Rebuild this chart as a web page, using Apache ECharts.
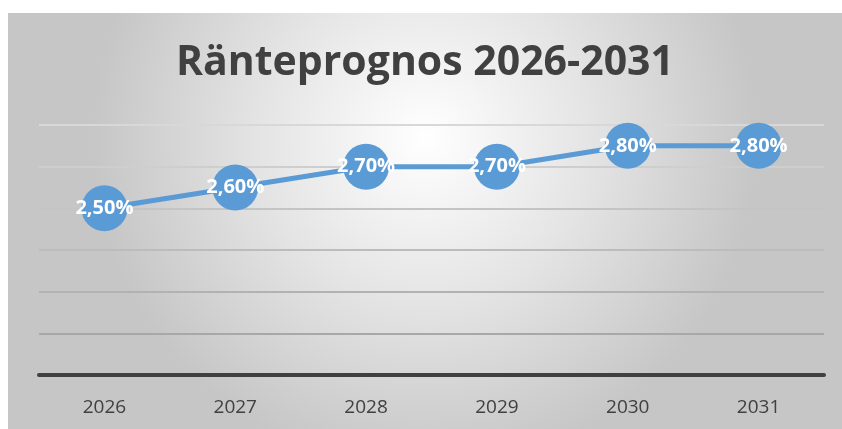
<!DOCTYPE html>
<html>
<head>
<meta charset="utf-8">
<script src="https://cdn.jsdelivr.net/npm/echarts@6/dist/echarts.min.js"></script>
<style>
  html, body { margin: 0; padding: 0; background: #fff; }
  #chart { position: absolute; left: 8px; top: 13px; width: 834px; height: 416px; }
</style>
</head>
<body>
<div id="chart"></div>
<script>
var years = ['2026', '2027', '2028', '2029', '2030', '2031'];
var rates = [2.5, 2.6, 2.7, 2.7, 2.8, 2.8];
var titleText = 'Ränteprognos 2026-2031';

var chart = echarts.init(document.getElementById('chart'));

var option = {
  backgroundColor: new echarts.graphic.RadialGradient(0.5, 0.3, 0.8, [
    { offset: 0, color: '#ffffff' },
    { offset: 0.5, color: '#e4e4e4' },
    { offset: 1, color: '#c6c6c6' }
  ]),
  title: {
    text: titleText,
    left: 'center',
    top: 25,
    textStyle: {
      fontFamily: 'Open Sans',
      fontWeight: 'bold',
      fontSize: 41,
      color: '#404040'
    }
  },
  grid: {
    left: 31,
    right: 18,
    top: 112,
    bottom: 54
  },
  xAxis: {
    type: 'category',
    data: years,
    boundaryGap: true,
    axisLine: { lineStyle: { color: '#404040', width: 4 } },
    axisTick: { show: false },
    axisLabel: {
      margin: 23,
      fontFamily: 'Open Sans',
      fontSize: 19,
      color: '#404040'
    }
  },
  yAxis: {
    type: 'value',
    min: 1.7,
    max: 2.9,
    interval: 0.2,
    axisLabel: { show: false },
    axisLine: { show: false },
    axisTick: { show: false },
    splitLine: {
      lineStyle: {
        width: 2,
        // lines get darker towards the bottom
        color: ['#a4a4a4', '#a8a8a8', '#b2b2b2', '#bcbcbc', '#c4c4c4', '#cecece', '#d8d8d8']
      }
    }
  },
  series: [{
    type: 'line',
    data: rates,
    symbol: 'circle',
    symbolSize: 46,
    lineStyle: { color: '#5b9bd5', width: 5 },
    itemStyle: { color: '#5b9bd5' },
    label: {
      show: true,
      position: 'inside',
      fontFamily: 'Open Sans',
      fontWeight: 'bold',
      fontSize: 20,
      color: '#ffffff',
      formatter: function (p) {
        return p.value.toFixed(2).replace('.', ',') + '%';
      }
    }
  }]
};
chart.setOption(option);
</script>
</body>
</html>
